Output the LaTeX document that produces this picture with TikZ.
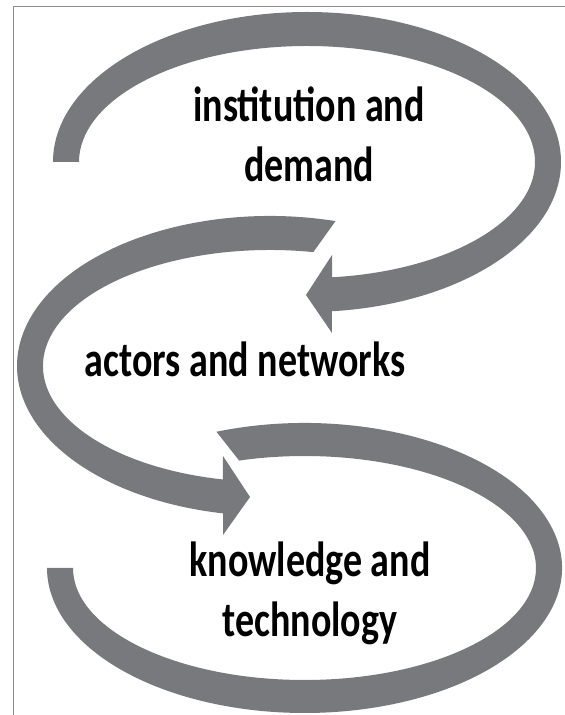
\documentclass[tikz,border=0pt]{standalone}
\usepackage{fontspec}
\setmainfont{Carlito}
\usepackage{tikz}
\usetikzlibrary{positioning}
\usetikzlibrary{calc}
\definecolor{bandgray}{RGB}{120,121,125}
\definecolor{framegray}{RGB}{140,140,140}
\tikzset{
	band/.style = {fill=bandgray},
	frame/.style = {draw=framegray, line width=1pt},
	lbl/.style = {font=\fontsize{38}{46}\selectfont\bfseries, align=center, inner sep=0pt, yscale=1.3}
}

\begin{document}
\begin{tikzpicture}[x=1pt, y=1pt]
		\useasboundingbox (0,0) rectangle (565,715);
		\draw[frame] (13,0) -- (13,708) -- (565,708);

		\coordinate (c1) at (307,553);
		\coordinate (c2) at (270,349);
		\coordinate (c3) at (304.5,147);

		% top loop
		\fill[band] (c1) ++(180:254 and 150)
			arc[start angle=180, end angle=-84.4, x radius=254, y radius=150]
			-- (332,382) -- (306,420) -- (332,460)
			-- ($(c1)+(-83.7:228 and 116)$)
			arc[start angle=-83.7, end angle=180, x radius=228, y radius=116] -- cycle;

		% middle loop
		\fill[band] (c2) ++(75:253 and 150)
			arc[start angle=75, end angle=259.3, x radius=253, y radius=150]
			-- (223,180) -- (250,218) -- (223,259)
			-- ($(c2)+(258:227 and 116)$)
			arc[start angle=258, end angle=79, x radius=227, y radius=116] -- cycle;

		% bottom loop
		\fill[band] (c3) ++(110:257.5 and 145)
			arc[start angle=110, end angle=-180, x radius=257.5, y radius=145]
			-- ($(c3)+(-180:231.5 and 112)$)
			arc[start angle=-180, end angle=106.4, x radius=231.5, y radius=112] -- cycle;

		\node[lbl] (demand) at (309,580.5) {institution and\\demand};
		\node[lbl] (actors) at (245,355.5) {actors and networks};
		\node[lbl] (knowledge) at (310,122) {knowledge and\\technology};
	\end{tikzpicture}
\end{document}
